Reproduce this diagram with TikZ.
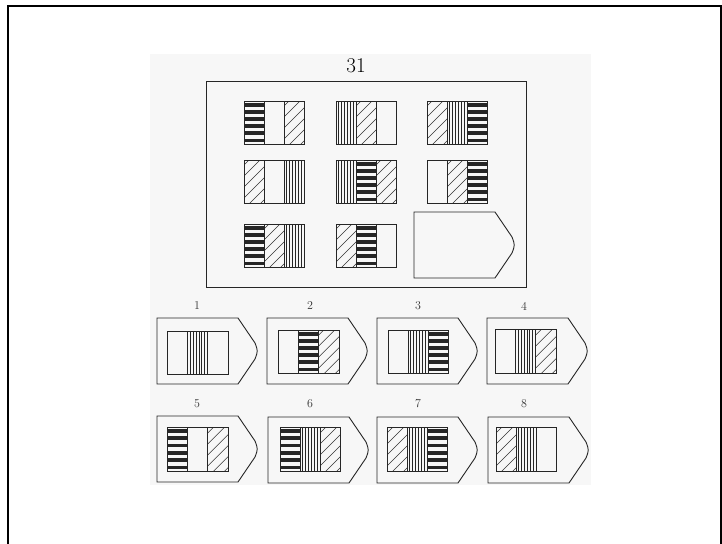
\documentclass[tikz,border=0pt]{standalone}
\newcommand\pH[4]{\foreach \i in {0,...,5}{\fill[black!85] ({#1},{#2+(\i+0.25)*#4/6}) rectangle ({#1+#3},{#2+(\i+0.78)*#4/6});}}
\newcommand\pV[4]{\foreach \i in {1,...,6}{\draw[line width=0.85pt,black!85] ({#1+\i*#3/7},{#2}) -- ++(0,{#4});}}
\newcommand\pD[4]{\begin{scope}\clip ({#1},{#2}) rectangle ++({#3},{#4});
  \foreach \i in {-1,...,7}{\draw[line width=0.55pt,black!80] ({#1},{#2+#4-\i*11+6}) -- ++(30,-30);}\end{scope}}
\newcommand\pE[4]{}
\newcommand\rcell[7]{%
  \csname p#5\endcsname{#1}{#2}{#3/3}{#4}%
  \csname p#6\endcsname{#1+#3/3}{#2}{#3/3}{#4}%
  \csname p#7\endcsname{#1+2*#3/3}{#2}{#3/3}{#4}%
  \draw[cellline] (#1,#2) rectangle ++(#3,#4);
  \draw[cellline] ({#1+#3/3},#2) -- ++(0,#4);
  \draw[cellline] ({#1+2*#3/3},#2) -- ++(0,#4);}
\newcommand\tagshape[2]{%
  \draw[tagline] (#1,#2) -- ++(81,0) -- ++(17,25) .. controls ++(3,8) .. ++(0,16) -- ++(-17,25) -- ++(-81,0) -- cycle;}
\tikzset{cellline/.style={line width=0.9pt,black!85},
  tagline/.style={line width=0.9pt,black!85},
  numlbl/.style={font=\fontsize{12}{14}\selectfont,inner sep=0pt,black!80}}
\begin{document}
\begin{tikzpicture}[x=1pt,y=-1pt]
\useasboundingbox (0,0) rectangle (722,543);
\fill[black!3] (150,54) rectangle (591,485);
\draw[line width=2pt] (8,545) -- (8,6) -- (721,6) -- (721,545);
\node[font=\fontsize{21}{24}\selectfont,inner sep=0pt] (title) at (356,66) {31};
\draw[line width=1pt,black!85] (206,81) rectangle (526,287);
% matrix
\rcell{244}{101}{60}{43}{H}{E}{D}
\rcell{336}{101}{60}{43}{V}{D}{E}
\rcell{427}{101}{60}{43}{D}{V}{H}
\rcell{244}{160}{60}{43}{D}{E}{V}
\rcell{336}{160}{60}{43}{V}{H}{D}
\rcell{427}{160}{60}{43}{E}{D}{H}
\rcell{244}{224}{60}{43}{H}{D}{V}
\rcell{336}{224}{60}{43}{D}{H}{E}
\tagshape{414}{212}
% options row 1
\tagshape{157}{318}\rcell{167}{331}{61}{43}{E}{V}{E}
\tagshape{267}{318}\rcell{278}{330}{61}{43}{E}{H}{D}
\tagshape{377}{318}\rcell{388}{330}{60}{43}{E}{V}{H}
\tagshape{487}{318}\rcell{495}{329}{61}{44}{E}{V}{D}
\node[numlbl] (n1) at (197,306) {1};
\node[numlbl] (n2) at (310,306) {2};
\node[numlbl] (n3) at (418,306) {3};
\node[numlbl] (n4) at (524,306) {4};
% options row 2
\tagshape{157}{416}\rcell{167}{427}{61}{44}{H}{E}{D}
\tagshape{268}{417}\rcell{280}{427}{60}{44}{H}{V}{D}
\tagshape{377}{417}\rcell{387}{427}{60}{44}{D}{V}{H}
\tagshape{488}{417}\rcell{496}{427}{60}{44}{D}{V}{E}
\node[numlbl] (n5) at (197,404) {5};
\node[numlbl] (n6) at (310,404) {6};
\node[numlbl] (n7) at (418,404) {7};
\node[numlbl] (n8) at (524,404) {8};
\end{tikzpicture}
\end{document}
